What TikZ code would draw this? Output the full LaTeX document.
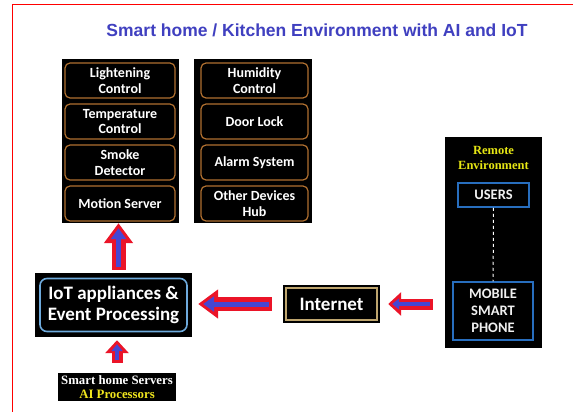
\documentclass[tikz,border=0pt]{standalone}
\usepackage{fontspec}
\newfontfamily\calfont{Carlito}
\newfontfamily\arialfont{Liberation Sans}
\newfontfamily\timesfont{Liberation Serif}
\usetikzlibrary{arrows.meta}
\definecolor{titleblue}{RGB}{64,64,192}
\definecolor{devorange}{RGB}{176,112,48}
\definecolor{nettan}{RGB}{190,165,110}
\definecolor{iotblue}{RGB}{110,170,220}
\definecolor{remblue}{RGB}{40,110,190}
\definecolor{arrred}{RGB}{235,20,40}
\definecolor{arrblue}{RGB}{70,70,210}
\definecolor{remyellow}{RGB}{230,230,20}
\definecolor{srvyellow}{RGB}{240,230,30}
\tikzset{
  panel/.style={fill=black, inner sep=0pt},
  devbox/.style={draw=devorange, line width=1.2pt, rounded corners=5pt, text=white,
    font=\calfont\bfseries\fontsize{14}{15.5}\selectfont, align=center,
    minimum height=35pt, inner sep=1pt},
  remotebox/.style={draw=remblue, line width=1.5pt, text=white!88!gray, align=center,
    font=\calfont\bfseries\fontsize{14.5}{17}\selectfont, inner sep=1pt},
  bigarrow/.style={draw=arrblue, line width=5pt, shorten <=3pt, shorten >=5pt,
    -{Triangle[length=11pt, width=15pt]},
    preaction={draw=arrred, line width=14pt, shorten <=0pt, shorten >=0pt,
      -{Triangle[length=20pt, width=28pt]}}},
  smallarrow/.style={draw=arrblue, line width=4pt, shorten <=3pt, shorten >=4pt,
    -{Triangle[length=7pt, width=11pt]},
    preaction={draw=arrred, line width=11pt, shorten <=0pt, shorten >=0pt,
      -{Triangle[length=13pt, width=23pt]}}}
}
\begin{document}
\begin{tikzpicture}[x=1pt, y=-1pt]
\useasboundingbox[fill=white] (0,0) rectangle (573,412);
\draw[red, line width=1pt] (12,412) -- (12,5) -- (573,5);
\node[font=\arialfont\bfseries\fontsize{17.5}{20}\selectfont, text=titleblue] (title) at (317,30)
  {Smart home / Kitchen Environment with AI and IoT};

% home devices
\node[panel, minimum width=117pt, minimum height=164pt] (left) at (120.5,141) {};
\node[panel, minimum width=118pt, minimum height=164pt] (right) at (253,141) {};
\foreach \name/\txt [count=\i] in {light/{Lightening\\Control}, temp/{Temperature\\Control},
    smoke/{Smoke\\Detector}, motion/{Motion Server}}
  \node[devbox, minimum width=110pt] (\name) at (120,39.5+41*\i) {\txt};
\foreach \name/\txt [count=\i] in {humid/{Humidity\\Control}, door/{Door Lock},
    alarm/{Alarm System}, other/{Other Devices\\Hub}}
  \node[devbox, minimum width=107pt] (\name) at (254.5,39.5+41*\i) {\txt};

% processing
\node[panel, minimum width=157pt, minimum height=64pt] (iotbg) at (113.5,305) {};
\node[draw=iotblue, line width=1.6pt, rounded corners=7pt, minimum width=147pt,
  minimum height=53pt, text=white, align=center, inner sep=1pt,
  font=\calfont\bfseries\fontsize{19}{21}\selectfont] (iot) at (iotbg) {IoT appliances \&\\Event Processing};
\node[panel, minimum width=118pt, minimum height=28pt, align=center, text=white,
  font=\timesfont\bfseries\fontsize{12.8}{14}\selectfont] (srv) at (117,387)
  {Smart home Servers\\\textcolor{srvyellow}{AI Processors}};

% internet
\node[panel, minimum width=97pt, minimum height=38pt] (netbg) at (331.5,304) {};
\node[draw=nettan, line width=1.3pt, minimum width=91pt, minimum height=32pt, text=white,
  font=\calfont\bfseries\fontsize{19}{20}\selectfont] (net) at (netbg) {Internet};

% remote side
\node[panel, minimum width=97pt, minimum height=211pt] (remote) at (493.5,242.5) {};
\node[text=remyellow, align=center, font=\timesfont\bfseries\fontsize{12.5}{15}\selectfont]
  (remtitle) at (493.5,158) {Remote\\Environment};
\node[remotebox, minimum width=71pt, minimum height=24pt] (users) at (493.5,195) {USERS};
\node[remotebox, minimum width=80pt, minimum height=58pt] (phone) at (493,311) {MOBILE\\SMART\\PHONE};
\draw[white, dashed, line width=1pt] (users) -- (phone);

% arrows
\draw[bigarrow] ([xshift=5pt,yshift=3pt]iotbg.north) -- ([xshift=5pt]iotbg.north |- left.south);
\draw[smallarrow] ([yshift=10pt]srv.north) -- ([yshift=-3pt]srv.north |- iotbg.south);
\draw[bigarrow] ([xshift=-11pt]netbg.west) -- ([xshift=6pt]iotbg.east |- netbg.west);
\draw[smallarrow] ([xshift=-12pt]remote.west |- netbg.east) -- ([xshift=8pt]netbg.east);
\end{tikzpicture}
\end{document}
